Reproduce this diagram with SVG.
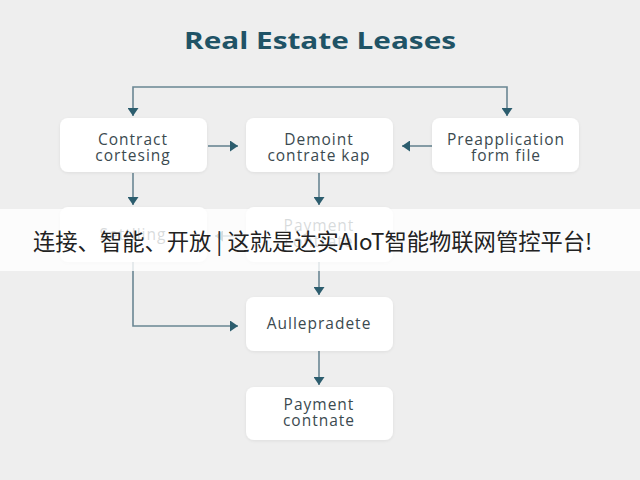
<svg xmlns="http://www.w3.org/2000/svg" width="640" height="480" viewBox="0 0 640 480">
<style>
.bg{fill:#eeeeee}
.box{fill:#ffffff;filter:url(#sh)}
.lbl{font-family:"Open Sans","Liberation Sans",sans-serif;font-size:15.5px;fill:#3b4a50;text-anchor:middle;letter-spacing:1px}
.edge{fill:none;stroke:#6a8693;stroke-width:1.6}
.title{font-family:"Open Sans","Liberation Sans",sans-serif;font-weight:700;font-size:23px;fill:#1f5366;text-anchor:middle}
.banner{fill:#ffffff;opacity:0.8}
.btxt{font-family:"Noto Sans CJK SC","Noto Sans",sans-serif;font-size:22.3px;fill:#222222}
</style>
<defs>
<filter id="sh" x="-10%" y="-10%" width="120%" height="130%">
<feDropShadow dx="0" dy="1" stdDeviation="1.5" flood-color="#000" flood-opacity="0.07"/>
</filter>
<marker id="ah" viewBox="0 0 8 11" refX="8" refY="5.5" markerWidth="8" markerHeight="11" markerUnits="userSpaceOnUse" orient="auto">
<path d="M0,0 L8,5.5 L0,11 z" fill="#2c5d6e"/>
</marker>
</defs>
<rect class="bg" x="0" y="0" width="640" height="480"/>
<text class="title" x="320" y="49" textLength="272" lengthAdjust="spacingAndGlyphs">Real Estate Leases</text>
<g id="connectors">
<path class="edge" d="M320,87 H133 V116" marker-end="url(#ah)"/>
<path class="edge" d="M320,87 H507 V116" marker-end="url(#ah)"/>
<path class="edge" d="M208,146 H238" marker-end="url(#ah)"/>
<path class="edge" d="M432,146 H402" marker-end="url(#ah)"/>
<path class="edge" d="M133,173 V205" marker-end="url(#ah)"/>
<path class="edge" d="M319,173 V205" marker-end="url(#ah)"/>
<path class="edge" d="M246,236 H215" marker-end="url(#ah)"/>
<path class="edge" d="M133,262 V326 H238" marker-end="url(#ah)"/>
<path class="edge" d="M319,262 V295" marker-end="url(#ah)"/>
<path class="edge" d="M319,351 V385" marker-end="url(#ah)"/>
</g>
<g id="n1"><rect class="box" x="60" y="118" width="147" height="54" rx="8"/><text class="lbl" x="133" y="145">Contract</text><text class="lbl" x="133" y="161">cortesing</text></g>
<g id="n2"><rect class="box" x="246" y="118" width="147" height="54" rx="8"/><text class="lbl" x="319" y="145">Demoint</text><text class="lbl" x="319" y="161">contrate kap</text></g>
<g id="n3"><rect class="box" x="432" y="118" width="147" height="54" rx="8"/><text class="lbl" x="506" y="145">Preapplication</text><text class="lbl" x="506" y="161">form file</text></g>
<g id="n4"><rect class="box" x="60" y="207" width="147" height="55" rx="8"/><text class="lbl" x="133" y="240">Settlling</text></g>
<g id="n5"><rect class="box" x="246" y="207" width="147" height="55" rx="8"/><text class="lbl" x="319" y="231">Payment</text><text class="lbl" x="319" y="247">contrate</text></g>
<g id="n6"><rect class="box" x="246" y="297" width="147" height="54" rx="8"/><text class="lbl" x="319" y="329">Aullepradete</text></g>
<g id="n7"><rect class="box" x="246" y="387" width="147" height="53" rx="8"/><text class="lbl" x="319" y="410">Payment</text><text class="lbl" x="319" y="426">contnate</text></g>
<g id="banner">
<rect class="banner" x="0" y="209" width="640" height="62"/>
<text class="btxt" x="33" y="250">连接、智能、开放 | 这就是达实AIoT智能物联网管控平台!</text>
</g>
</svg>
